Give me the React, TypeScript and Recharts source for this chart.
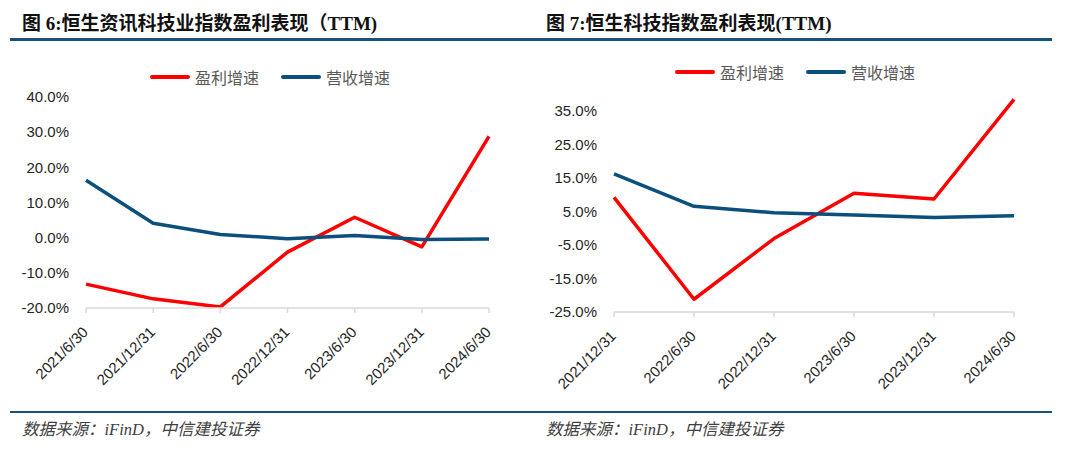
import React from 'react';
import { LineChart, Line, XAxis, YAxis, Legend } from 'recharts';

// 图6 恒生资讯科技业指数
const datesA = ['2021/6/30', '2021/12/31', '2022/6/30', '2022/12/31', '2023/6/30', '2023/12/31', '2024/6/30'];
const profitA = [-0.132, -0.174, -0.197, -0.041, 0.058, -0.026, 0.288];
const revenueA = [0.163, 0.041, 0.009, -0.003, 0.006, -0.005, -0.004];
const ticksA = [-0.2, -0.1, 0, 0.1, 0.2, 0.3, 0.4];

// 图7 恒生科技指数
const datesB = ['2021/12/31', '2022/6/30', '2022/12/31', '2023/6/30', '2023/12/31', '2024/6/30'];
const profitB = [0.092, -0.212, -0.031, 0.104, 0.087, 0.384];
const revenueB = [0.162, 0.065, 0.046, 0.039, 0.032, 0.037];
const ticksB = [-0.25, -0.15, -0.05, 0.05, 0.15, 0.25, 0.35];

const RED = '#ff0000';
const BLUE = '#0b4f7d';
const RULE = '#17527f';
const AXIS = '#d9d9d9';
const TICK_FONT = '"Liberation Sans", Arial, sans-serif';
const CJK = '"Noto Sans CJK SC", sans-serif';

const pct = (v: number) => `${(v * 100).toFixed(1)}%`;

const build = (dates: string[], profit: number[], revenue: number[]) =>
  dates.map((d, i) => ({ date: d, profit: profit[i], revenue: revenue[i] }));

const DateTick = (props: any) => {
  const { x, y, payload } = props;
  const px = x + 3;
  const py = y + 18;
  return (
    <text
      x={px}
      y={py}
      transform={`rotate(-45, ${px}, ${py})`}
      textAnchor="end"
      fill="#262626"
      fontSize={15}
      fontFamily={TICK_FONT}
    >
      {payload.value}
    </text>
  );
};

const LegendBox = (props: any) => {
  const items = props.payload || [];
  return (
    <div style={{ display: 'flex', alignItems: 'center' }}>
      {items.map((it: any) => (
        <div key={it.value} style={{ display: 'flex', alignItems: 'center', marginRight: 22 }}>
          <div style={{ width: 40, height: 4, borderRadius: 2, background: it.color, marginRight: 5 }} />
          <span style={{ fontFamily: CJK, fontSize: 16, color: '#595959', lineHeight: '20px' }}>{it.value}</span>
        </div>
      ))}
    </div>
  );
};

interface PanelProps {
  left: number;
  title: string;
  data: { date: string; profit: number; revenue: number }[];
  domain: [number, number];
  ticks: number[];
  margin: { top: number; right: number; bottom: number; left: number };
  legendLeft: number;
  legendTop: number;
}

const Panel = ({ left, title, data, domain, ticks, margin, legendLeft, legendTop }: PanelProps) => (
  <div style={{ position: 'absolute', left, top: 0, width: 540, height: 454 }}>
    <div
      style={{
        position: 'absolute',
        left: left === 0 ? 22 : 6,
        top: 12,
        fontFamily: '"Liberation Serif", "Noto Sans CJK SC", serif',
        fontWeight: 'bold',
        fontSize: 19,
        color: '#111',
        whiteSpace: 'nowrap',
        lineHeight: '24px',
      }}
    >
      {title}
    </div>
    <div style={{ position: 'absolute', left: left === 0 ? 10 : 0, right: left === 0 ? 0 : 28, top: 38, height: 3, background: RULE }} />
    <div style={{ position: 'absolute', top: 0, left: 0 }}>
      <LineChart width={540} height={400} data={data} margin={margin}>
        <XAxis
          dataKey="date"
          interval={0}
          height={80}
          padding={{ left: 0, right: 0 }}
          axisLine={{ stroke: AXIS, strokeWidth: 1.5 }}
          tickLine={{ stroke: AXIS, strokeWidth: 1.5 }}
          tickSize={5}
          tick={<DateTick />}
        />
        <YAxis
          width={60}
          domain={domain}
          ticks={ticks}
          interval={0}
          allowDataOverflow
          axisLine={false}
          tickLine={false}
          tickSize={0}
          tickMargin={17}
          tickFormatter={pct}
          tick={{ fill: '#262626', fontSize: 15, fontFamily: TICK_FONT }}
        />
        <Legend
          verticalAlign="middle"
          content={<LegendBox />}
          wrapperStyle={{ top: legendTop, left: legendLeft, width: 'auto' }}
        />
        <Line
          name="盈利增速"
          dataKey="profit"
          type="linear"
          stroke={RED}
          strokeWidth={3.5}
          strokeLinejoin="round"
          dot={false}
          isAnimationActive={false}
        />
        <Line
          name="营收增速"
          dataKey="revenue"
          type="linear"
          stroke={BLUE}
          strokeWidth={3.5}
          strokeLinejoin="round"
          dot={false}
          isAnimationActive={false}
        />
      </LineChart>
    </div>
    <div style={{ position: 'absolute', left: left === 0 ? 10 : 0, right: left === 0 ? 0 : 28, top: 411, height: 2, background: RULE }} />
    <div
      style={{
        position: 'absolute',
        left: left === 0 ? 22 : 6,
        top: 420,
        fontFamily: '"Liberation Serif", "Noto Sans CJK SC", serif',
        fontStyle: 'italic',
        fontSize: 16.5,
        color: '#404040',
        whiteSpace: 'nowrap',
        lineHeight: '20px',
      }}
    >
      数据来源：iFinD，中信建投证券
    </div>
  </div>
);

export default function App() {
  return (
    <div style={{ position: 'absolute', left: 0, top: 0, width: 1080, height: 454, background: '#fff', overflow: 'hidden' }}>
      <Panel
        left={0}
        title="图 6:恒生资讯科技业指数盈利表现（TTM)"
        data={build(datesA, profitA, revenueA)}
        domain={[-0.2, 0.4]}
        ticks={ticksA}
        margin={{ top: 97, right: 51, bottom: 12, left: 26 }}
        legendLeft={150}
        legendTop={67}
      />
      <Panel
        left={540}
        title="图 7:恒生科技指数盈利表现(TTM)"
        data={build(datesB, profitB, revenueB)}
        domain={[-0.25, 0.4]}
        ticks={ticksB}
        margin={{ top: 94, right: 66, bottom: 8, left: 14 }}
        legendLeft={135}
        legendTop={62}
      />
    </div>
  );
}
